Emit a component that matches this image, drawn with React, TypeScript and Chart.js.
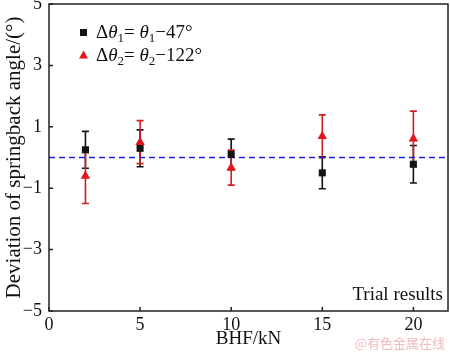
import React, { useEffect, useRef } from 'react';
import { Chart, registerables } from 'chart.js';

Chart.register(...registerables);

// ---- data ----
const bhfValues = [2, 5, 10, 15, 20];
const theta1Values = [0.25, 0.3, 0.1, -0.5, -0.22];
const theta1Errors = [0.6, 0.6, 0.5, 0.52, 0.61];
const theta2Values = [-0.6, 0.5, -0.33, 0.69, 0.61];
const theta2Errors = [0.9, 0.7, 0.57, 0.7, 0.9];
const xTicks = [0, 5, 10, 15, 20];
const yTicks = [-5, -3, -1, 1, 3, 5];
const xRange = [0, 21.9];
const yRange = [-5, 5];
const referenceLine = [0, 0];
const seriesSubscripts = ['1', '2'];
const seriesReferences = ['47', '122'];
const xTitle = 'BHF/kN';
const yTitle = 'Deviation of springback angle/(°)';
const noteText = 'Trial results';
const watermarkText = '@有色金属在线';

const BLACK = '#141414';
const RED = '#e3141b';
const RED_BAR = '#cf1f25';
const DASH_BLUE = '#1f1fe6';
const SERIF = '"Liberation Serif", "Times New Roman", serif';

const fmtTick = (v: number) => (v < 0 ? '\u2212' + Math.abs(v) : String(v));

const errorBarPlugin = {
  id: 'errorBars',
  beforeDatasetsDraw(chart: any) {
    const ctx = chart.ctx;
    const xs = chart.scales.x;
    const ys = chart.scales.y;
    const drawSet = (vals: number[], errs: number[], color: string) => {
      ctx.save();
      ctx.strokeStyle = color;
      ctx.lineWidth = 1.6;
      vals.forEach((v, i) => {
        const px = xs.getPixelForValue(bhfValues[i]);
        const top = ys.getPixelForValue(v + errs[i]);
        const bot = ys.getPixelForValue(v - errs[i]);
        ctx.beginPath();
        ctx.moveTo(px, top);
        ctx.lineTo(px, bot);
        ctx.moveTo(px - 3.5, top);
        ctx.lineTo(px + 3.5, top);
        ctx.moveTo(px - 3.5, bot);
        ctx.lineTo(px + 3.5, bot);
        ctx.stroke();
      });
      ctx.restore();
    };
    drawSet(theta1Values, theta1Errors, BLACK);
    drawSet(theta2Values, theta2Errors, RED_BAR);
  },
};

const framePlugin = {
  id: 'frame',
  afterDraw(chart: any) {
    const ctx = chart.ctx;
    const a = chart.chartArea;
    const xs = chart.scales.x;
    const ys = chart.scales.y;
    ctx.save();
    ctx.strokeStyle = '#222';
    ctx.lineWidth = 1.5;
    ctx.strokeRect(a.left, a.top, a.right - a.left, a.bottom - a.top);
    ctx.beginPath();
    xTicks.forEach((t) => {
      const px = xs.getPixelForValue(t);
      ctx.moveTo(px, a.bottom);
      ctx.lineTo(px, a.bottom - 4);
    });
    yTicks.forEach((t) => {
      const py = ys.getPixelForValue(t);
      ctx.moveTo(a.left, py);
      ctx.lineTo(a.left + 4, py);
    });
    ctx.stroke();

    // legend
    const drawEq = (x: number, y: number, sub: string, ref: string) => {
      const pieces = [
        { t: '\u0394', f: `19px ${SERIF}`, dy: 0 },
        { t: '\u03b8', f: `italic 19px ${SERIF}`, dy: 0 },
        { t: sub, f: `13px ${SERIF}`, dy: 4 },
        { t: '= ', f: `19px ${SERIF}`, dy: 0 },
        { t: '\u03b8', f: `italic 19px ${SERIF}`, dy: 0 },
        { t: sub, f: `13px ${SERIF}`, dy: 4 },
        { t: '\u2212' + ref + '\u00b0', f: `19px ${SERIF}`, dy: 0 },
      ];
      ctx.fillStyle = '#111';
      ctx.textAlign = 'left';
      ctx.textBaseline = 'alphabetic';
      let cx = x;
      pieces.forEach((p) => {
        ctx.font = p.f;
        ctx.fillText(p.t, cx, y + p.dy);
        cx += ctx.measureText(p.t).width;
      });
    };
    ctx.fillStyle = BLACK;
    ctx.fillRect(80, 29, 7, 7);
    drawEq(96, 38, seriesSubscripts[0], seriesReferences[0]);
    ctx.fillStyle = RED;
    ctx.beginPath();
    ctx.moveTo(83.5, 50.5);
    ctx.lineTo(88, 58.5);
    ctx.lineTo(79, 58.5);
    ctx.closePath();
    ctx.fill();
    drawEq(96, 61, seriesSubscripts[1], seriesReferences[1]);

    // note
    ctx.font = `19px ${SERIF}`;
    ctx.fillStyle = '#111';
    ctx.textAlign = 'right';
    ctx.fillText(noteText, a.right - 5, a.bottom - 11);

    // watermark
    ctx.font = '13px "Noto Sans CJK SC", sans-serif';
    ctx.fillStyle = '#f2b9bb';
    ctx.textAlign = 'right';
    ctx.textBaseline = 'middle';
    ctx.fillText(watermarkText, 445, 343);
    ctx.restore();
  },
};

export default function App() {
  const ref = useRef<HTMLCanvasElement | null>(null);
  useEffect(() => {
    if (!ref.current) return;
    const chart = new Chart(ref.current, {
      type: 'scatter',
      data: {
        datasets: [
          {
            label: 'theta2',
            data: bhfValues.map((x, i) => ({ x, y: theta2Values[i] })),
            pointStyle: 'triangle',
            pointRadius: 5.5,
            backgroundColor: RED,
            borderColor: RED,
            borderWidth: 0,
          },
          {
            label: 'theta1',
            data: bhfValues.map((x, i) => ({ x, y: theta1Values[i] })),
            pointStyle: 'rect',
            pointRadius: 5,
            backgroundColor: BLACK,
            borderColor: BLACK,
            borderWidth: 0,
          },
          {
            type: 'line',
            label: 'zero',
            data: xRange.map((x, i) => ({ x, y: referenceLine[i] })),
            borderColor: DASH_BLUE,
            backgroundColor: DASH_BLUE,
            borderWidth: 1.3,
            borderDash: [6, 4],
            pointRadius: 0,
            fill: false,
          } as any,
        ],
      },
      options: {
        animation: false,
        responsive: false,
        devicePixelRatio: 1,
        layout: { autoPadding: false, padding: { top: 4, right: 2, left: 0, bottom: 0 } },
        plugins: { legend: { display: false }, tooltip: { enabled: false } },
        scales: {
          x: {
            type: 'linear',
            min: xRange[0],
            max: xRange[1],
            grid: { display: false, drawTicks: false },
            border: { display: false },
            afterBuildTicks: (s: any) => {
              s.ticks = xTicks.map((v) => ({ value: v }));
            },
            afterFit: (s: any) => {
              s.height = 41;
              s.paddingLeft = 0;
              s.paddingRight = 0;
            },
            ticks: {
              padding: 3,
              color: '#111',
              font: { family: SERIF, size: 18 },
              callback: (v: any) => fmtTick(Number(v)),
            },
            title: {
              display: true,
              text: xTitle,
              color: '#111',
              font: { family: SERIF, size: 19 },
              padding: { top: 0, bottom: 2 },
            },
          },
          y: {
            type: 'linear',
            min: yRange[0],
            max: yRange[1],
            grid: { display: false, drawTicks: false },
            border: { display: false },
            afterBuildTicks: (s: any) => {
              s.ticks = yTicks.map((v) => ({ value: v }));
            },
            afterFit: (s: any) => {
              s.width = 49;
              s.paddingTop = 0;
              s.paddingBottom = 0;
            },
            ticks: {
              padding: 7,
              color: '#111',
              font: { family: SERIF, size: 18 },
              callback: (v: any) => fmtTick(Number(v)),
            },
            title: {
              display: true,
              text: yTitle,
              color: '#111',
              font: { family: SERIF, size: 21 },
              padding: { top: 2, bottom: 0 },
            },
          },
        },
      },
      plugins: [errorBarPlugin, framePlugin],
    } as any);
    return () => chart.destroy();
  }, []);
  return (
    <div style={{ position: 'absolute', left: 0, top: 0, width: 450, height: 352, background: '#fff' }}>
      <canvas ref={ref} width={450} height={352} style={{ display: 'block' }} />
    </div>
  );
}
